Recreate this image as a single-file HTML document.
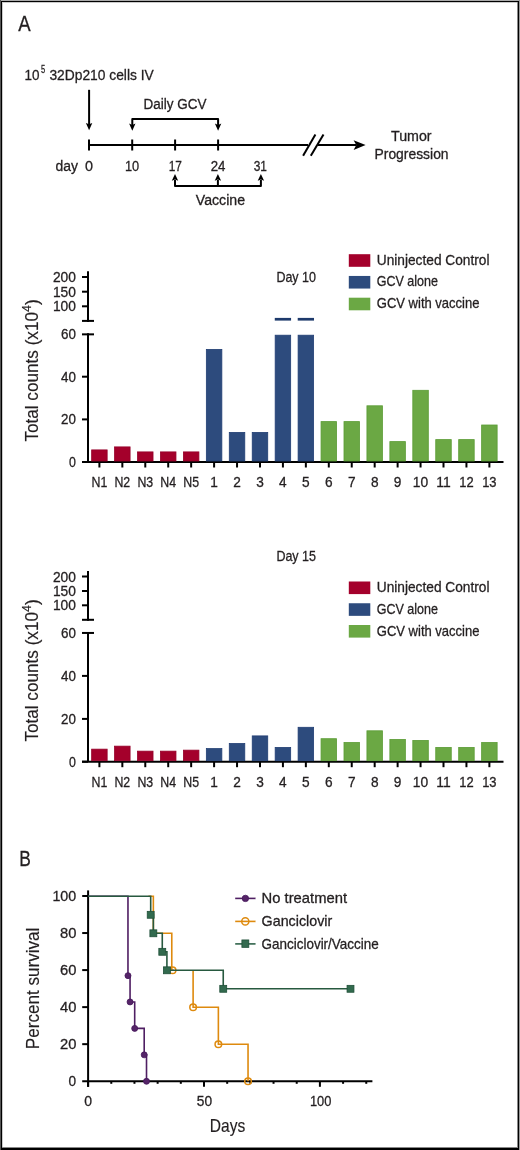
<!DOCTYPE html>
<html><head><meta charset="utf-8"><style>
html,body{margin:0;padding:0;background:#fff;}
svg{display:block;will-change:transform;}
text{font-family:"Liberation Sans", sans-serif;stroke:#231F20;stroke-width:0.3px;}
</style></head><body>
<svg width="520" height="1150" viewBox="0 0 520 1150" font-family="Liberation Sans, sans-serif">

<rect x="0.00" y="0.00" width="520.00" height="1.00" fill="#aaa"/>
<rect x="0.00" y="0.00" width="1.00" height="1150.00" fill="#555"/>
<rect x="1.00" y="1.00" width="518.00" height="1.00" fill="#000"/>
<rect x="1.00" y="1.00" width="1.00" height="1148.00" fill="#000"/>
<rect x="2.00" y="2.00" width="515.00" height="1.00" fill="#ccc"/>
<rect x="2.00" y="2.00" width="1.00" height="1145.00" fill="#ccc"/>
<rect x="518.00" y="1.00" width="1.00" height="1149.00" fill="#000"/>
<rect x="519.00" y="0.00" width="1.00" height="1150.00" fill="#999"/>
<rect x="517.00" y="2.00" width="1.00" height="1146.00" fill="#888"/>
<rect x="1.00" y="1148.00" width="518.00" height="2.00" fill="#000"/>
<rect x="2.00" y="1147.00" width="515.00" height="1.00" fill="#888"/>
<text x="18.3" y="30.9" font-size="22" textLength="12.4" lengthAdjust="spacingAndGlyphs" fill="#231F20">A</text>
<text x="24.6" y="80" font-size="15.3" textLength="15.0" lengthAdjust="spacingAndGlyphs" fill="#231F20">10</text>
<text x="41.0" y="73.4" font-size="10.6" textLength="4.2" lengthAdjust="spacingAndGlyphs" fill="#231F20">5</text>
<text x="49.4" y="80" font-size="15.3" textLength="104.4" lengthAdjust="spacingAndGlyphs" fill="#231F20">32Dp210 cells IV</text>
<line x1="89.1" y1="89.8" x2="89.1" y2="125" stroke="#000" stroke-width="2" stroke-linecap="butt"/>
<path d="M85.90,123.00 L89.10,124.30 L92.30,123.00 L89.10,130.20 Z" fill="#000"/>
<text x="143.5" y="108.7" font-size="15.3" textLength="63.0" lengthAdjust="spacingAndGlyphs" fill="#231F20">Daily GCV</text>
<path d="M132.3,125 L132.3,118.9 L218.1,118.9 L218.1,125" fill="none" stroke="#000" stroke-width="2" stroke-linejoin="round"/>
<path d="M129.10,123.60 L132.30,124.90 L135.50,123.60 L132.30,130.80 Z" fill="#000"/>
<path d="M214.90,123.60 L218.10,124.90 L221.30,123.60 L218.10,130.80 Z" fill="#000"/>
<line x1="88" y1="145" x2="308" y2="145" stroke="#000" stroke-width="2" stroke-linecap="butt"/>
<line x1="318" y1="145" x2="356" y2="145" stroke="#000" stroke-width="2" stroke-linecap="butt"/>
<path d="M353.6,140.2 L365.6,145 L353.6,150 L356.3,145 Z" fill="#000"/>
<line x1="303.1" y1="155.8" x2="315.4" y2="134.5" stroke="#000" stroke-width="2" stroke-linecap="butt"/>
<line x1="310.8" y1="155.8" x2="323.5" y2="134.5" stroke="#000" stroke-width="2" stroke-linecap="butt"/>
<line x1="89.0" y1="139.5" x2="89.0" y2="150.5" stroke="#000" stroke-width="2" stroke-linecap="butt"/>
<line x1="132.2" y1="139.5" x2="132.2" y2="150.5" stroke="#000" stroke-width="2" stroke-linecap="butt"/>
<line x1="175.1" y1="139.5" x2="175.1" y2="150.5" stroke="#000" stroke-width="2" stroke-linecap="butt"/>
<line x1="218.1" y1="139.5" x2="218.1" y2="150.5" stroke="#000" stroke-width="2" stroke-linecap="butt"/>
<text x="55.5" y="170.5" font-size="15.3" textLength="22.5" lengthAdjust="spacingAndGlyphs" fill="#231F20">day</text>
<text x="85" y="170.5" font-size="15" textLength="8" lengthAdjust="spacingAndGlyphs" fill="#231F20">0</text>
<text x="125" y="170.5" font-size="15" textLength="14.25" lengthAdjust="spacingAndGlyphs" fill="#231F20">10</text>
<text x="168.75" y="170.5" font-size="15" textLength="13.25" lengthAdjust="spacingAndGlyphs" fill="#231F20">17</text>
<text x="210.75" y="170.5" font-size="15" textLength="14.75" lengthAdjust="spacingAndGlyphs" fill="#231F20">24</text>
<text x="253.75" y="170.5" font-size="15" textLength="13.25" lengthAdjust="spacingAndGlyphs" fill="#231F20">31</text>
<path d="M175,180 L175,186.1 L260.9,186.1 L260.9,180" fill="none" stroke="#000" stroke-width="2" stroke-linejoin="round"/>
<line x1="217.9" y1="180" x2="217.9" y2="186.1" stroke="#000" stroke-width="2" stroke-linecap="butt"/>
<path d="M171.80,180.80 L175.00,179.60 L178.20,180.80 L175.00,174.00 Z" fill="#000"/>
<path d="M214.70,180.80 L217.90,179.60 L221.10,180.80 L217.90,174.00 Z" fill="#000"/>
<path d="M257.70,180.80 L260.90,179.60 L264.10,180.80 L260.90,174.00 Z" fill="#000"/>
<text x="195.8" y="205.2" font-size="14.0" textLength="49.2" lengthAdjust="spacingAndGlyphs" fill="#231F20">Vaccine</text>
<text x="391" y="140.6" font-size="14.2" textLength="40.6" lengthAdjust="spacingAndGlyphs" fill="#231F20">Tumor</text>
<text x="374.5" y="158.75" font-size="14.2" textLength="74.1" lengthAdjust="spacingAndGlyphs" fill="#231F20">Progression</text>
<line x1="88" y1="271.3" x2="88" y2="321.9" stroke="#000" stroke-width="2" stroke-linecap="butt"/>
<line x1="82" y1="320.9" x2="94" y2="320.9" stroke="#000" stroke-width="2" stroke-linecap="butt"/>
<line x1="82" y1="277.0" x2="88" y2="277.0" stroke="#000" stroke-width="2" stroke-linecap="butt"/>
<text x="75.9" y="282.0" font-size="14.3" text-anchor="end" textLength="23.0" lengthAdjust="spacingAndGlyphs" fill="#231F20">200</text>
<line x1="82" y1="291.7" x2="88" y2="291.7" stroke="#000" stroke-width="2" stroke-linecap="butt"/>
<text x="75.9" y="296.7" font-size="14.3" text-anchor="end" textLength="23.0" lengthAdjust="spacingAndGlyphs" fill="#231F20">150</text>
<line x1="82" y1="306.3" x2="88" y2="306.3" stroke="#000" stroke-width="2" stroke-linecap="butt"/>
<text x="75.9" y="311.3" font-size="14.3" text-anchor="end" textLength="23.0" lengthAdjust="spacingAndGlyphs" fill="#231F20">100</text>
<line x1="82" y1="334.35" x2="94" y2="334.35" stroke="#000" stroke-width="2" stroke-linecap="butt"/>
<line x1="88" y1="333.35" x2="88" y2="462.0" stroke="#000" stroke-width="2" stroke-linecap="butt"/>
<line x1="82" y1="376.7" x2="88" y2="376.7" stroke="#000" stroke-width="2" stroke-linecap="butt"/>
<text x="75.9" y="381.7" font-size="14.3" text-anchor="end" textLength="14.9" lengthAdjust="spacingAndGlyphs" fill="#231F20">40</text>
<line x1="82" y1="419.4" x2="88" y2="419.4" stroke="#000" stroke-width="2" stroke-linecap="butt"/>
<text x="75.9" y="424.4" font-size="14.3" text-anchor="end" textLength="14.9" lengthAdjust="spacingAndGlyphs" fill="#231F20">20</text>
<line x1="82" y1="462.0" x2="88" y2="462.0" stroke="#000" stroke-width="2" stroke-linecap="butt"/>
<text x="75.9" y="467.0" font-size="14.3" text-anchor="end" textLength="6.9" lengthAdjust="spacingAndGlyphs" fill="#231F20">0</text>
<text x="75.9" y="339.25" font-size="14.3" text-anchor="end" textLength="14.9" lengthAdjust="spacingAndGlyphs" fill="#231F20">60</text>
<line x1="82" y1="462.0" x2="503.5" y2="462.0" stroke="#000" stroke-width="2" stroke-linecap="butt"/>
<line x1="99.4" y1="462.0" x2="99.4" y2="467.5" stroke="#000" stroke-width="2" stroke-linecap="butt"/>
<rect x="91.65" y="449.90" width="15.50" height="11.10" fill="#A4002B" stroke="#96002A" stroke-width="0.8"/>
<text x="99.4" y="486.7" font-size="14.6" text-anchor="middle" textLength="15.8" lengthAdjust="spacingAndGlyphs" fill="#231F20">N1</text>
<line x1="122.34" y1="462.0" x2="122.34" y2="467.5" stroke="#000" stroke-width="2" stroke-linecap="butt"/>
<rect x="114.59" y="446.90" width="15.50" height="14.10" fill="#A4002B" stroke="#96002A" stroke-width="0.8"/>
<text x="122.34" y="486.7" font-size="14.6" text-anchor="middle" textLength="15.8" lengthAdjust="spacingAndGlyphs" fill="#231F20">N2</text>
<line x1="145.28" y1="462.0" x2="145.28" y2="467.5" stroke="#000" stroke-width="2" stroke-linecap="butt"/>
<rect x="137.53" y="451.90" width="15.50" height="9.10" fill="#A4002B" stroke="#96002A" stroke-width="0.8"/>
<text x="145.28" y="486.7" font-size="14.6" text-anchor="middle" textLength="15.8" lengthAdjust="spacingAndGlyphs" fill="#231F20">N3</text>
<line x1="168.22000000000003" y1="462.0" x2="168.22000000000003" y2="467.5" stroke="#000" stroke-width="2" stroke-linecap="butt"/>
<rect x="160.47" y="451.90" width="15.50" height="9.10" fill="#A4002B" stroke="#96002A" stroke-width="0.8"/>
<text x="168.22000000000003" y="486.7" font-size="14.6" text-anchor="middle" textLength="15.8" lengthAdjust="spacingAndGlyphs" fill="#231F20">N4</text>
<line x1="191.16000000000003" y1="462.0" x2="191.16000000000003" y2="467.5" stroke="#000" stroke-width="2" stroke-linecap="butt"/>
<rect x="183.41" y="451.90" width="15.50" height="9.10" fill="#A4002B" stroke="#96002A" stroke-width="0.8"/>
<text x="191.16000000000003" y="486.7" font-size="14.6" text-anchor="middle" textLength="15.8" lengthAdjust="spacingAndGlyphs" fill="#231F20">N5</text>
<line x1="214.10000000000002" y1="462.0" x2="214.10000000000002" y2="467.5" stroke="#000" stroke-width="2" stroke-linecap="butt"/>
<rect x="206.35" y="349.40" width="15.50" height="111.60" fill="#2D4B7D" stroke="#223F74" stroke-width="0.8"/>
<text x="214.10000000000002" y="486.7" font-size="14.6" text-anchor="middle" textLength="7.6" lengthAdjust="spacingAndGlyphs" fill="#231F20">1</text>
<line x1="237.04000000000002" y1="462.0" x2="237.04000000000002" y2="467.5" stroke="#000" stroke-width="2" stroke-linecap="butt"/>
<rect x="229.29" y="432.40" width="15.50" height="28.60" fill="#2D4B7D" stroke="#223F74" stroke-width="0.8"/>
<text x="237.04000000000002" y="486.7" font-size="14.6" text-anchor="middle" textLength="7.6" lengthAdjust="spacingAndGlyphs" fill="#231F20">2</text>
<line x1="259.98" y1="462.0" x2="259.98" y2="467.5" stroke="#000" stroke-width="2" stroke-linecap="butt"/>
<rect x="252.23" y="432.40" width="15.50" height="28.60" fill="#2D4B7D" stroke="#223F74" stroke-width="0.8"/>
<text x="259.98" y="486.7" font-size="14.6" text-anchor="middle" textLength="7.6" lengthAdjust="spacingAndGlyphs" fill="#231F20">3</text>
<line x1="282.92" y1="462.0" x2="282.92" y2="467.5" stroke="#000" stroke-width="2" stroke-linecap="butt"/>
<rect x="275.17" y="335.20" width="15.50" height="125.80" fill="#2D4B7D" stroke="#223F74" stroke-width="0.8"/>
<text x="282.92" y="486.7" font-size="14.6" text-anchor="middle" textLength="7.6" lengthAdjust="spacingAndGlyphs" fill="#231F20">4</text>
<line x1="305.86" y1="462.0" x2="305.86" y2="467.5" stroke="#000" stroke-width="2" stroke-linecap="butt"/>
<rect x="298.11" y="335.20" width="15.50" height="125.80" fill="#2D4B7D" stroke="#223F74" stroke-width="0.8"/>
<text x="305.86" y="486.7" font-size="14.6" text-anchor="middle" textLength="7.6" lengthAdjust="spacingAndGlyphs" fill="#231F20">5</text>
<line x1="328.8" y1="462.0" x2="328.8" y2="467.5" stroke="#000" stroke-width="2" stroke-linecap="butt"/>
<rect x="321.05" y="421.60" width="15.50" height="39.40" fill="#6BA844" stroke="#5B9C35" stroke-width="0.8"/>
<text x="328.8" y="486.7" font-size="14.6" text-anchor="middle" textLength="7.6" lengthAdjust="spacingAndGlyphs" fill="#231F20">6</text>
<line x1="351.74" y1="462.0" x2="351.74" y2="467.5" stroke="#000" stroke-width="2" stroke-linecap="butt"/>
<rect x="343.99" y="421.60" width="15.50" height="39.40" fill="#6BA844" stroke="#5B9C35" stroke-width="0.8"/>
<text x="351.74" y="486.7" font-size="14.6" text-anchor="middle" textLength="7.6" lengthAdjust="spacingAndGlyphs" fill="#231F20">7</text>
<line x1="374.68000000000006" y1="462.0" x2="374.68000000000006" y2="467.5" stroke="#000" stroke-width="2" stroke-linecap="butt"/>
<rect x="366.93" y="405.80" width="15.50" height="55.20" fill="#6BA844" stroke="#5B9C35" stroke-width="0.8"/>
<text x="374.68000000000006" y="486.7" font-size="14.6" text-anchor="middle" textLength="7.6" lengthAdjust="spacingAndGlyphs" fill="#231F20">8</text>
<line x1="397.62" y1="462.0" x2="397.62" y2="467.5" stroke="#000" stroke-width="2" stroke-linecap="butt"/>
<rect x="389.87" y="441.60" width="15.50" height="19.40" fill="#6BA844" stroke="#5B9C35" stroke-width="0.8"/>
<text x="397.62" y="486.7" font-size="14.6" text-anchor="middle" textLength="7.6" lengthAdjust="spacingAndGlyphs" fill="#231F20">9</text>
<line x1="420.56000000000006" y1="462.0" x2="420.56000000000006" y2="467.5" stroke="#000" stroke-width="2" stroke-linecap="butt"/>
<rect x="412.81" y="390.30" width="15.50" height="70.70" fill="#6BA844" stroke="#5B9C35" stroke-width="0.8"/>
<text x="420.56000000000006" y="486.7" font-size="14.6" text-anchor="middle" textLength="15.4" lengthAdjust="spacingAndGlyphs" fill="#231F20">10</text>
<line x1="443.5" y1="462.0" x2="443.5" y2="467.5" stroke="#000" stroke-width="2" stroke-linecap="butt"/>
<rect x="435.75" y="439.60" width="15.50" height="21.40" fill="#6BA844" stroke="#5B9C35" stroke-width="0.8"/>
<text x="443.5" y="486.7" font-size="14.6" text-anchor="middle" textLength="14.4" lengthAdjust="spacingAndGlyphs" fill="#231F20">11</text>
<line x1="466.44000000000005" y1="462.0" x2="466.44000000000005" y2="467.5" stroke="#000" stroke-width="2" stroke-linecap="butt"/>
<rect x="458.69" y="439.60" width="15.50" height="21.40" fill="#6BA844" stroke="#5B9C35" stroke-width="0.8"/>
<text x="466.44000000000005" y="486.7" font-size="14.6" text-anchor="middle" textLength="14.4" lengthAdjust="spacingAndGlyphs" fill="#231F20">12</text>
<line x1="489.38" y1="462.0" x2="489.38" y2="467.5" stroke="#000" stroke-width="2" stroke-linecap="butt"/>
<rect x="481.63" y="425.00" width="15.50" height="36.00" fill="#6BA844" stroke="#5B9C35" stroke-width="0.8"/>
<text x="489.38" y="486.7" font-size="14.6" text-anchor="middle" textLength="14.4" lengthAdjust="spacingAndGlyphs" fill="#231F20">13</text>
<text transform="translate(38.4,441.6) rotate(-90)" font-size="18" fill="#231F20" style="stroke-width:0.15px" textLength="142.2" lengthAdjust="spacingAndGlyphs">Total counts (x10<tspan font-size="13" dy="-7.0">4</tspan><tspan dy="7.0">)</tspan></text>
<text x="276.4" y="281.5" font-size="14.2" textLength="39.6" lengthAdjust="spacingAndGlyphs" fill="#231F20">Day 10</text>
<rect x="348.80" y="254.20" width="21.50" height="12.60" fill="#A4002B"/>
<text x="376.75" y="264.7" font-size="14.6" textLength="112.75" lengthAdjust="spacingAndGlyphs" fill="#231F20">Uninjected Control</text>
<rect x="348.80" y="275.95" width="21.50" height="12.60" fill="#2D4B7D"/>
<text x="376.75" y="286.45" font-size="14.6" textLength="61.25" lengthAdjust="spacingAndGlyphs" fill="#231F20">GCV alone</text>
<rect x="348.80" y="297.70" width="21.50" height="12.60" fill="#6BA844"/>
<text x="376.75" y="308.2" font-size="14.6" textLength="102.75" lengthAdjust="spacingAndGlyphs" fill="#231F20">GCV with vaccine</text>
<rect x="274.77" y="317.90" width="16.30" height="2.70" fill="#1E3A6C"/>
<rect x="297.71" y="317.90" width="16.30" height="2.70" fill="#1E3A6C"/>
<line x1="88" y1="571.1" x2="88" y2="620.8" stroke="#000" stroke-width="2" stroke-linecap="butt"/>
<line x1="82" y1="619.8" x2="94" y2="619.8" stroke="#000" stroke-width="2" stroke-linecap="butt"/>
<line x1="82" y1="576.5" x2="88" y2="576.5" stroke="#000" stroke-width="2" stroke-linecap="butt"/>
<text x="75.9" y="581.5" font-size="14.3" text-anchor="end" textLength="23.0" lengthAdjust="spacingAndGlyphs" fill="#231F20">200</text>
<line x1="82" y1="591.0" x2="88" y2="591.0" stroke="#000" stroke-width="2" stroke-linecap="butt"/>
<text x="75.9" y="596.0" font-size="14.3" text-anchor="end" textLength="23.0" lengthAdjust="spacingAndGlyphs" fill="#231F20">150</text>
<line x1="82" y1="605.3" x2="88" y2="605.3" stroke="#000" stroke-width="2" stroke-linecap="butt"/>
<text x="75.9" y="610.3" font-size="14.3" text-anchor="end" textLength="23.0" lengthAdjust="spacingAndGlyphs" fill="#231F20">100</text>
<line x1="82" y1="632.95" x2="94" y2="632.95" stroke="#000" stroke-width="2" stroke-linecap="butt"/>
<line x1="88" y1="631.95" x2="88" y2="761.7" stroke="#000" stroke-width="2" stroke-linecap="butt"/>
<line x1="82" y1="675.9" x2="88" y2="675.9" stroke="#000" stroke-width="2" stroke-linecap="butt"/>
<text x="75.9" y="680.9" font-size="14.3" text-anchor="end" textLength="14.9" lengthAdjust="spacingAndGlyphs" fill="#231F20">40</text>
<line x1="82" y1="718.9" x2="88" y2="718.9" stroke="#000" stroke-width="2" stroke-linecap="butt"/>
<text x="75.9" y="723.9" font-size="14.3" text-anchor="end" textLength="14.9" lengthAdjust="spacingAndGlyphs" fill="#231F20">20</text>
<line x1="82" y1="761.7" x2="88" y2="761.7" stroke="#000" stroke-width="2" stroke-linecap="butt"/>
<text x="75.9" y="766.7" font-size="14.3" text-anchor="end" textLength="6.9" lengthAdjust="spacingAndGlyphs" fill="#231F20">0</text>
<text x="75.9" y="637.85" font-size="14.3" text-anchor="end" textLength="14.9" lengthAdjust="spacingAndGlyphs" fill="#231F20">60</text>
<line x1="82" y1="761.7" x2="503.5" y2="761.7" stroke="#000" stroke-width="2" stroke-linecap="butt"/>
<line x1="99.4" y1="761.7" x2="99.4" y2="767.2" stroke="#000" stroke-width="2" stroke-linecap="butt"/>
<rect x="91.65" y="749.15" width="15.50" height="11.55" fill="#A4002B" stroke="#96002A" stroke-width="0.8"/>
<text x="99.4" y="787.0" font-size="14.6" text-anchor="middle" textLength="15.8" lengthAdjust="spacingAndGlyphs" fill="#231F20">N1</text>
<line x1="122.34" y1="761.7" x2="122.34" y2="767.2" stroke="#000" stroke-width="2" stroke-linecap="butt"/>
<rect x="114.59" y="746.15" width="15.50" height="14.55" fill="#A4002B" stroke="#96002A" stroke-width="0.8"/>
<text x="122.34" y="787.0" font-size="14.6" text-anchor="middle" textLength="15.8" lengthAdjust="spacingAndGlyphs" fill="#231F20">N2</text>
<line x1="145.28" y1="761.7" x2="145.28" y2="767.2" stroke="#000" stroke-width="2" stroke-linecap="butt"/>
<rect x="137.53" y="751.15" width="15.50" height="9.55" fill="#A4002B" stroke="#96002A" stroke-width="0.8"/>
<text x="145.28" y="787.0" font-size="14.6" text-anchor="middle" textLength="15.8" lengthAdjust="spacingAndGlyphs" fill="#231F20">N3</text>
<line x1="168.22000000000003" y1="761.7" x2="168.22000000000003" y2="767.2" stroke="#000" stroke-width="2" stroke-linecap="butt"/>
<rect x="160.47" y="751.15" width="15.50" height="9.55" fill="#A4002B" stroke="#96002A" stroke-width="0.8"/>
<text x="168.22000000000003" y="787.0" font-size="14.6" text-anchor="middle" textLength="15.8" lengthAdjust="spacingAndGlyphs" fill="#231F20">N4</text>
<line x1="191.16000000000003" y1="761.7" x2="191.16000000000003" y2="767.2" stroke="#000" stroke-width="2" stroke-linecap="butt"/>
<rect x="183.41" y="750.15" width="15.50" height="10.55" fill="#A4002B" stroke="#96002A" stroke-width="0.8"/>
<text x="191.16000000000003" y="787.0" font-size="14.6" text-anchor="middle" textLength="15.8" lengthAdjust="spacingAndGlyphs" fill="#231F20">N5</text>
<line x1="214.10000000000002" y1="761.7" x2="214.10000000000002" y2="767.2" stroke="#000" stroke-width="2" stroke-linecap="butt"/>
<rect x="206.35" y="748.60" width="15.50" height="12.10" fill="#2D4B7D" stroke="#223F74" stroke-width="0.8"/>
<text x="214.10000000000002" y="787.0" font-size="14.6" text-anchor="middle" textLength="7.6" lengthAdjust="spacingAndGlyphs" fill="#231F20">1</text>
<line x1="237.04000000000002" y1="761.7" x2="237.04000000000002" y2="767.2" stroke="#000" stroke-width="2" stroke-linecap="butt"/>
<rect x="229.29" y="743.50" width="15.50" height="17.20" fill="#2D4B7D" stroke="#223F74" stroke-width="0.8"/>
<text x="237.04000000000002" y="787.0" font-size="14.6" text-anchor="middle" textLength="7.6" lengthAdjust="spacingAndGlyphs" fill="#231F20">2</text>
<line x1="259.98" y1="761.7" x2="259.98" y2="767.2" stroke="#000" stroke-width="2" stroke-linecap="butt"/>
<rect x="252.23" y="735.90" width="15.50" height="24.80" fill="#2D4B7D" stroke="#223F74" stroke-width="0.8"/>
<text x="259.98" y="787.0" font-size="14.6" text-anchor="middle" textLength="7.6" lengthAdjust="spacingAndGlyphs" fill="#231F20">3</text>
<line x1="282.92" y1="761.7" x2="282.92" y2="767.2" stroke="#000" stroke-width="2" stroke-linecap="butt"/>
<rect x="275.17" y="747.40" width="15.50" height="13.30" fill="#2D4B7D" stroke="#223F74" stroke-width="0.8"/>
<text x="282.92" y="787.0" font-size="14.6" text-anchor="middle" textLength="7.6" lengthAdjust="spacingAndGlyphs" fill="#231F20">4</text>
<line x1="305.86" y1="761.7" x2="305.86" y2="767.2" stroke="#000" stroke-width="2" stroke-linecap="butt"/>
<rect x="298.11" y="727.30" width="15.50" height="33.40" fill="#2D4B7D" stroke="#223F74" stroke-width="0.8"/>
<text x="305.86" y="787.0" font-size="14.6" text-anchor="middle" textLength="7.6" lengthAdjust="spacingAndGlyphs" fill="#231F20">5</text>
<line x1="328.8" y1="761.7" x2="328.8" y2="767.2" stroke="#000" stroke-width="2" stroke-linecap="butt"/>
<rect x="321.05" y="738.70" width="15.50" height="22.00" fill="#6BA844" stroke="#5B9C35" stroke-width="0.8"/>
<text x="328.8" y="787.0" font-size="14.6" text-anchor="middle" textLength="7.6" lengthAdjust="spacingAndGlyphs" fill="#231F20">6</text>
<line x1="351.74" y1="761.7" x2="351.74" y2="767.2" stroke="#000" stroke-width="2" stroke-linecap="butt"/>
<rect x="343.99" y="742.50" width="15.50" height="18.20" fill="#6BA844" stroke="#5B9C35" stroke-width="0.8"/>
<text x="351.74" y="787.0" font-size="14.6" text-anchor="middle" textLength="7.6" lengthAdjust="spacingAndGlyphs" fill="#231F20">7</text>
<line x1="374.68000000000006" y1="761.7" x2="374.68000000000006" y2="767.2" stroke="#000" stroke-width="2" stroke-linecap="butt"/>
<rect x="366.93" y="730.80" width="15.50" height="29.90" fill="#6BA844" stroke="#5B9C35" stroke-width="0.8"/>
<text x="374.68000000000006" y="787.0" font-size="14.6" text-anchor="middle" textLength="7.6" lengthAdjust="spacingAndGlyphs" fill="#231F20">8</text>
<line x1="397.62" y1="761.7" x2="397.62" y2="767.2" stroke="#000" stroke-width="2" stroke-linecap="butt"/>
<rect x="389.87" y="739.40" width="15.50" height="21.30" fill="#6BA844" stroke="#5B9C35" stroke-width="0.8"/>
<text x="397.62" y="787.0" font-size="14.6" text-anchor="middle" textLength="7.6" lengthAdjust="spacingAndGlyphs" fill="#231F20">9</text>
<line x1="420.56000000000006" y1="761.7" x2="420.56000000000006" y2="767.2" stroke="#000" stroke-width="2" stroke-linecap="butt"/>
<rect x="412.81" y="740.40" width="15.50" height="20.30" fill="#6BA844" stroke="#5B9C35" stroke-width="0.8"/>
<text x="420.56000000000006" y="787.0" font-size="14.6" text-anchor="middle" textLength="15.4" lengthAdjust="spacingAndGlyphs" fill="#231F20">10</text>
<line x1="443.5" y1="761.7" x2="443.5" y2="767.2" stroke="#000" stroke-width="2" stroke-linecap="butt"/>
<rect x="435.75" y="747.40" width="15.50" height="13.30" fill="#6BA844" stroke="#5B9C35" stroke-width="0.8"/>
<text x="443.5" y="787.0" font-size="14.6" text-anchor="middle" textLength="14.4" lengthAdjust="spacingAndGlyphs" fill="#231F20">11</text>
<line x1="466.44000000000005" y1="761.7" x2="466.44000000000005" y2="767.2" stroke="#000" stroke-width="2" stroke-linecap="butt"/>
<rect x="458.69" y="747.40" width="15.50" height="13.30" fill="#6BA844" stroke="#5B9C35" stroke-width="0.8"/>
<text x="466.44000000000005" y="787.0" font-size="14.6" text-anchor="middle" textLength="14.4" lengthAdjust="spacingAndGlyphs" fill="#231F20">12</text>
<line x1="489.38" y1="761.7" x2="489.38" y2="767.2" stroke="#000" stroke-width="2" stroke-linecap="butt"/>
<rect x="481.63" y="742.50" width="15.50" height="18.20" fill="#6BA844" stroke="#5B9C35" stroke-width="0.8"/>
<text x="489.38" y="787.0" font-size="14.6" text-anchor="middle" textLength="14.4" lengthAdjust="spacingAndGlyphs" fill="#231F20">13</text>
<text transform="translate(38.4,741.6) rotate(-90)" font-size="18" fill="#231F20" style="stroke-width:0.15px" textLength="142.2" lengthAdjust="spacingAndGlyphs">Total counts (x10<tspan font-size="13" dy="-7.0">4</tspan><tspan dy="7.0">)</tspan></text>
<text x="276.4" y="561.4" font-size="14.2" textLength="39.6" lengthAdjust="spacingAndGlyphs" fill="#231F20">Day 15</text>
<rect x="348.80" y="581.50" width="21.50" height="12.60" fill="#A4002B"/>
<text x="376.75" y="592.0" font-size="14.6" textLength="112.75" lengthAdjust="spacingAndGlyphs" fill="#231F20">Uninjected Control</text>
<rect x="348.80" y="603.25" width="21.50" height="12.60" fill="#2D4B7D"/>
<text x="376.75" y="613.75" font-size="14.6" textLength="61.25" lengthAdjust="spacingAndGlyphs" fill="#231F20">GCV alone</text>
<rect x="348.80" y="625.00" width="21.50" height="12.60" fill="#6BA844"/>
<text x="376.75" y="635.5" font-size="14.6" textLength="102.75" lengthAdjust="spacingAndGlyphs" fill="#231F20">GCV with vaccine</text>
<text x="19.3" y="865.7" font-size="22" textLength="11.6" lengthAdjust="spacingAndGlyphs" fill="#231F20">B</text>
<line x1="88.1" y1="890.4" x2="88.1" y2="1086.8" stroke="#000" stroke-width="2" stroke-linecap="butt"/>
<line x1="82.2" y1="1081.3" x2="372.4" y2="1081.3" stroke="#000" stroke-width="2" stroke-linecap="butt"/>
<line x1="82.2" y1="896.0" x2="88.1" y2="896.0" stroke="#000" stroke-width="2" stroke-linecap="butt"/>
<line x1="82.2" y1="933.0400000000001" x2="88.1" y2="933.0400000000001" stroke="#000" stroke-width="2" stroke-linecap="butt"/>
<line x1="82.2" y1="970.08" x2="88.1" y2="970.08" stroke="#000" stroke-width="2" stroke-linecap="butt"/>
<line x1="82.2" y1="1007.12" x2="88.1" y2="1007.12" stroke="#000" stroke-width="2" stroke-linecap="butt"/>
<line x1="82.2" y1="1044.16" x2="88.1" y2="1044.16" stroke="#000" stroke-width="2" stroke-linecap="butt"/>
<text x="76.2" y="901.1" font-size="14.9" text-anchor="end" textLength="23.8" lengthAdjust="spacingAndGlyphs" fill="#231F20">100</text>
<text x="76.4" y="938.1400000000001" font-size="14.9" text-anchor="end" textLength="16.4" lengthAdjust="spacingAndGlyphs" fill="#231F20">80</text>
<text x="76.4" y="975.1800000000001" font-size="14.9" text-anchor="end" textLength="16.4" lengthAdjust="spacingAndGlyphs" fill="#231F20">60</text>
<text x="76.4" y="1012.22" font-size="14.9" text-anchor="end" textLength="16.4" lengthAdjust="spacingAndGlyphs" fill="#231F20">40</text>
<text x="76.4" y="1049.26" font-size="14.9" text-anchor="end" textLength="16.4" lengthAdjust="spacingAndGlyphs" fill="#231F20">20</text>
<text x="76.1" y="1086.3" font-size="14.9" text-anchor="end" textLength="7.6" lengthAdjust="spacingAndGlyphs" fill="#231F20">0</text>
<line x1="88.1" y1="1081.3" x2="88.1" y2="1086.8" stroke="#000" stroke-width="2" stroke-linecap="butt"/>
<line x1="111.28" y1="1081.3" x2="111.28" y2="1083.8" stroke="#000" stroke-width="2" stroke-linecap="butt"/>
<line x1="134.45999999999998" y1="1081.3" x2="134.45999999999998" y2="1083.8" stroke="#000" stroke-width="2" stroke-linecap="butt"/>
<line x1="157.64" y1="1081.3" x2="157.64" y2="1083.8" stroke="#000" stroke-width="2" stroke-linecap="butt"/>
<line x1="180.82" y1="1081.3" x2="180.82" y2="1083.8" stroke="#000" stroke-width="2" stroke-linecap="butt"/>
<line x1="204.0" y1="1081.3" x2="204.0" y2="1086.8" stroke="#000" stroke-width="2" stroke-linecap="butt"/>
<line x1="227.18" y1="1081.3" x2="227.18" y2="1083.8" stroke="#000" stroke-width="2" stroke-linecap="butt"/>
<line x1="250.35999999999999" y1="1081.3" x2="250.35999999999999" y2="1083.8" stroke="#000" stroke-width="2" stroke-linecap="butt"/>
<line x1="273.53999999999996" y1="1081.3" x2="273.53999999999996" y2="1083.8" stroke="#000" stroke-width="2" stroke-linecap="butt"/>
<line x1="296.72" y1="1081.3" x2="296.72" y2="1083.8" stroke="#000" stroke-width="2" stroke-linecap="butt"/>
<line x1="319.9" y1="1081.3" x2="319.9" y2="1086.8" stroke="#000" stroke-width="2" stroke-linecap="butt"/>
<line x1="343.08000000000004" y1="1081.3" x2="343.08000000000004" y2="1083.8" stroke="#000" stroke-width="2" stroke-linecap="butt"/>
<line x1="366.26" y1="1081.3" x2="366.26" y2="1083.8" stroke="#000" stroke-width="2" stroke-linecap="butt"/>
<text x="88.2" y="1106" font-size="14.9" text-anchor="middle" textLength="7.8" lengthAdjust="spacingAndGlyphs" fill="#231F20">0</text>
<text x="204.4" y="1106" font-size="14.9" text-anchor="middle" textLength="15.3" lengthAdjust="spacingAndGlyphs" fill="#231F20">50</text>
<text x="320.7" y="1106" font-size="14.9" text-anchor="middle" textLength="21.5" lengthAdjust="spacingAndGlyphs" fill="#231F20">100</text>
<text x="209.8" y="1131.6" font-size="17.8" textLength="35.4" lengthAdjust="spacingAndGlyphs" fill="#231F20" style="stroke-width:0.15px">Days</text>
<text x="0" y="0" font-size="18.4" textLength="121.6" lengthAdjust="spacingAndGlyphs" fill="#231F20" style="stroke-width:0.15px" transform="translate(38.7,1049.2) rotate(-90)">Percent survival</text>
<path d="M88.10,896.30 H127.97 V975.66 H130.06 V1001.93 H134.69 V1028.39 H144.20 V1054.85 H146.51 V1081.30" fill="none" stroke="#4F1F63" stroke-width="1.6"/>
<circle cx="127.97" cy="975.66" r="3.0" fill="#552468" stroke="#45175A" stroke-width="0.8"/>
<circle cx="130.06" cy="1001.93" r="3.0" fill="#552468" stroke="#45175A" stroke-width="0.8"/>
<circle cx="134.69" cy="1028.39" r="3.0" fill="#552468" stroke="#45175A" stroke-width="0.8"/>
<circle cx="144.20" cy="1054.85" r="3.0" fill="#552468" stroke="#45175A" stroke-width="0.8"/>
<circle cx="146.51" cy="1081.30" r="3.0" fill="#552468" stroke="#45175A" stroke-width="0.8"/>
<path d="M148.37,896.30 H153.35 V933.30 H171.78 V970.30 H173.87 M193.11,971.10 V1007.30 H218.37 V1044.30 H248.04 V1081.30" fill="none" stroke="#DE8A0E" stroke-width="1.6"/>
<circle cx="172.58" cy="970.30" r="3.3" fill="none" stroke="#DE8A0E" stroke-width="1.5"/>
<circle cx="193.11" cy="1007.30" r="3.3" fill="none" stroke="#DE8A0E" stroke-width="1.5"/>
<circle cx="218.37" cy="1044.30" r="3.3" fill="none" stroke="#DE8A0E" stroke-width="1.5"/>
<circle cx="248.04" cy="1081.30" r="3.3" fill="none" stroke="#DE8A0E" stroke-width="1.5"/>
<path d="M88.10,896.30 H150.69 V914.80 H153.35 V933.30 H162.28 V951.80 H166.91 V970.30 H223.24 V988.80 H350.50" fill="none" stroke="#27593F" stroke-width="1.6"/>
<rect x="147.24" y="911.35" width="6.9" height="6.9" fill="#326A4E" stroke="#1F4F38" stroke-width="0.8"/>
<rect x="149.90" y="929.85" width="6.9" height="6.9" fill="#326A4E" stroke="#1F4F38" stroke-width="0.8"/>
<rect x="158.83" y="948.35" width="6.9" height="6.9" fill="#326A4E" stroke="#1F4F38" stroke-width="0.8"/>
<rect x="163.46" y="966.85" width="6.9" height="6.9" fill="#326A4E" stroke="#1F4F38" stroke-width="0.8"/>
<rect x="219.79" y="985.35" width="6.9" height="6.9" fill="#326A4E" stroke="#1F4F38" stroke-width="0.8"/>
<rect x="347.05" y="985.35" width="6.9" height="6.9" fill="#326A4E" stroke="#1F4F38" stroke-width="0.8"/>
<line x1="235.2" y1="898.4" x2="255.5" y2="898.4" stroke="#4F1F63" stroke-width="1.6" stroke-linecap="butt"/>
<circle cx="245.4" cy="898.4" r="3.2" fill="#552468" stroke="#45175A" stroke-width="0.8"/>
<text x="261.6" y="903.1" font-size="14.5" textLength="85.4" lengthAdjust="spacingAndGlyphs" fill="#231F20">No treatment</text>
<line x1="235.2" y1="921.4" x2="255.5" y2="921.4" stroke="#DE8A0E" stroke-width="1.6" stroke-linecap="butt"/>
<circle cx="245.3" cy="921.4" r="3.55" fill="none" stroke="#DE8A0E" stroke-width="1.5"/>
<text x="261.6" y="926.1" font-size="14.5" textLength="70.6" lengthAdjust="spacingAndGlyphs" fill="#231F20">Ganciclovir</text>
<line x1="235.2" y1="943.9" x2="255.5" y2="943.9" stroke="#2F634A" stroke-width="1.6" stroke-linecap="butt"/>
<rect x="241.9" y="939.9499999999999" width="6.9" height="7.4" fill="#356B50" stroke="#1F4F38" stroke-width="0.8"/>
<text x="261.6" y="948.6" font-size="14.5" textLength="117.1" lengthAdjust="spacingAndGlyphs" fill="#231F20">Ganciclovir/Vaccine</text>
</svg></body></html>
